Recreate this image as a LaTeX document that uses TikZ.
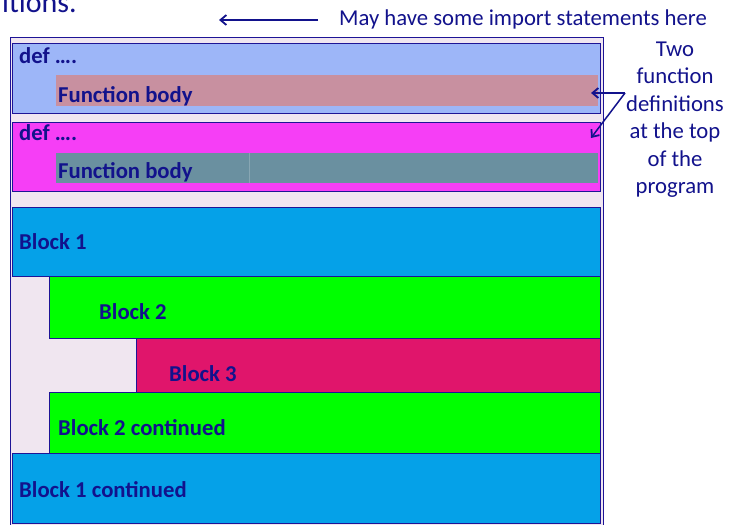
\documentclass[tikz,border=0pt]{standalone}
\usepackage{fontspec}
\setmainfont{Carlito}
\usetikzlibrary{arrows.meta}
\definecolor{txt}{RGB}{18,18,140}
\definecolor{edge}{RGB}{30,20,150}
\definecolor{outerfill}{RGB}{240,230,240}
\definecolor{defA}{RGB}{157,182,248}
\definecolor{bodyA}{RGB}{200,144,160}
\definecolor{defB}{RGB}{246,62,246}
\definecolor{bodyB}{RGB}{106,144,160}
\definecolor{blkA}{RGB}{5,161,232}
\definecolor{blkB}{RGB}{0,255,0}
\definecolor{blkC}{RGB}{224,21,107}
\tikzset{
  boxline/.style={draw=edge, line width=1pt},
  lbl/.style={anchor=base west, inner sep=0pt, text=txt, font=\fontsize{22.7}{27.5}\selectfont\bfseries},
  note/.style={inner sep=0pt, text=txt, font=\fontsize{22.7}{27.5}\selectfont},
  arr/.style={draw=txt, line width=1.8pt, -{Straight Barb[length=6pt,width=10pt,line width=1.8pt]}},
}
\begin{document}
\begin{tikzpicture}[x=1pt,y=-1pt]
\useasboundingbox (0,0) rectangle (729,525);
\fill[white] (0,0) rectangle (729,525);
% outer program box
\draw[boxline, fill=outerfill] (10,37) rectangle (603,540);
% function definitions
\draw[boxline, fill=defA] (12,43) rectangle (600,113);
\fill[bodyA] (56,75) rectangle (598,106);
\draw[boxline, fill=defB] (12,122) rectangle (600,191);
\fill[bodyB] (56,153) rectangle (598,183);
\draw[draw=bodyB!80!white, line width=0.4pt] (249,153) -- (249,183);
% blocks
\draw[boxline, fill=blkA] (12,207) rectangle (600,276);
\draw[boxline, fill=blkB] (49,276) rectangle (600,338);
\draw[boxline, fill=blkC] (136,338) rectangle (600,392);
\draw[boxline, fill=blkB] (49,392) rectangle (600,453);
\draw[boxline, fill=blkA] (12,453) rectangle (600,523);
% labels
\node[lbl] (d1) at (19,63) {def ….};
\node[lbl] (f1) at (58,102) {Function body};
\node[lbl] (d2) at (19,140) {def ….};
\node[lbl] (f2) at (58,178) {Function body};
\node[lbl] (b1) at (19,249) {Block 1};
\node[lbl] (b2) at (99,319) {Block 2};
\node[lbl] (b3) at (169,381) {Block 3};
\node[lbl] (b2c) at (58,435) {Block 2 continued};
\node[lbl] (b1c) at (19,497) {Block 1 continued};
% top texts
\node[note, anchor=base west, font=\fontsize{30}{36}\selectfont] (tit) at (2,12) {itions.};
\node[note, anchor=base west] (imp) at (339,25) {May have some import statements here};
\node[note, anchor=north, align=center] (two) at (675,41.5) {Two\\function\\definitions\\at the top\\of the\\program};
% arrows
\coordinate (impS) at (318,20);
\coordinate (impE) at (219,20);
\draw[arr] (impS) -- (impE);
\coordinate (fnS) at (625,93);
\coordinate (fnE1) at (591,93);
\coordinate (fnE2) at (591,138);
\draw[arr, line width=1.5pt] (fnS) -- (fnE1);
\draw[arr, line width=1.5pt] (fnS) -- (fnE2);
\end{tikzpicture}
\end{document}
